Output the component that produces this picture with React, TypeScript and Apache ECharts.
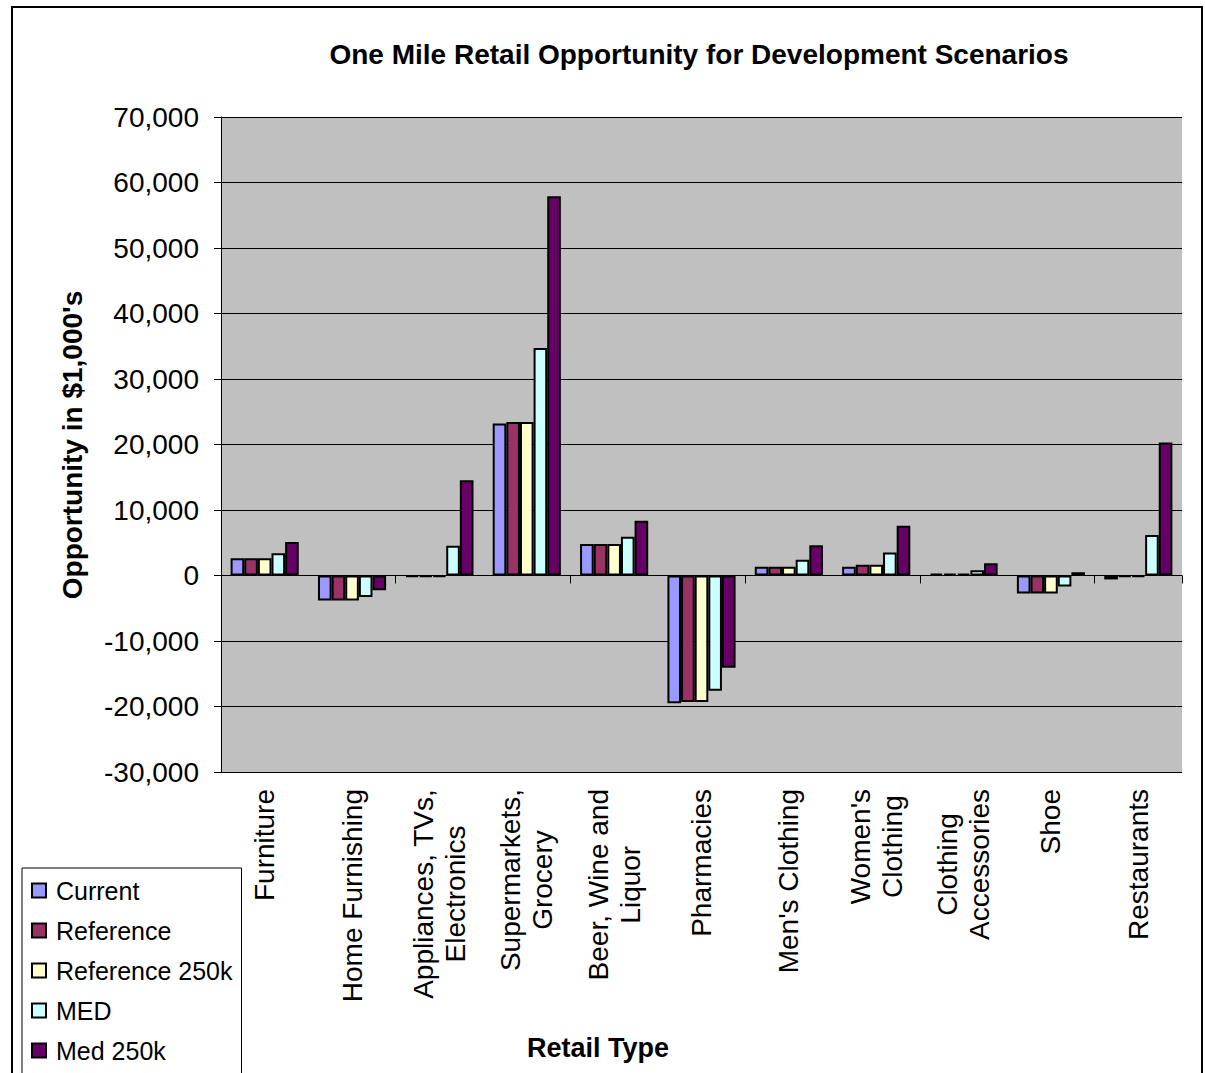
import React, { useEffect, useRef } from "react";
import * as echarts from "echarts";

const categories = [
  "Furniture",
  "Home Furnishing",
  "Appliances, TVs,\nElectronics",
  "Supermarkets,\nGrocery",
  "Beer, Wine and\nLiquor",
  "Pharmacies",
  "Men's Clothing",
  "Women's\nClothing",
  "Clothing\nAccessories",
  "Shoe",
  "Restaurants",
];

const seriesNames = ["Current", "Reference", "Reference 250k", "MED", "Med 250k"];
const seriesColors = ["#9999FF", "#993366", "#FFFFCC", "#CCFFFF", "#660066"];

const current = [2650, -3800, -200, 23200, 4800, -19500, 1330, 1330, 300, -2750, -600];
const reference = [2650, -3800, -200, 23450, 4800, -19300, 1330, 1630, 300, -2750, -200];
const reference250k = [2650, -3800, -200, 23450, 4800, -19300, 1330, 1630, 300, -2750, -200];
const med = [3400, -3300, 4550, 34750, 5900, -17600, 2400, 3500, 820, -1680, 6200];
const med250k = [5100, -2250, 14550, 57900, 8350, -14100, 4600, 7600, 1880, 500, 20300];

const seriesData = [current, reference, reference250k, med, med250k];

const FONT = "'Liberation Sans', Arial, sans-serif";
// page offset of the chart's content box
const OX = 13;
const OY = 8;

export default function App() {
  const ref = useRef<HTMLDivElement>(null);

  useEffect(() => {
    if (!ref.current) return;
    const chart = echarts.init(ref.current, undefined, { renderer: "svg" });
    const option: any = {
      animation: false,
      backgroundColor: "#ffffff",
      textStyle: { fontFamily: FONT, color: "#000" },
      grid: {
        left: 221 - OX,
        top: 117 - OY,
        width: 961,
        height: 655,
        show: true,
        backgroundColor: "#C0C0C0",
        borderWidth: 0,
      },
      legend: {
        orient: "vertical",
        left: 22 - OX,
        top: 868 - OY,
        width: 220,
        padding: [10, 9, 12, 9],
        itemGap: 15,
        itemWidth: 14,
        itemHeight: 14,
        icon: "rect",
        borderColor: "#000",
        borderWidth: 1,
        backgroundColor: "#fff",
        textStyle: {
          fontFamily: FONT,
          fontSize: 25,
          color: "#000",
          padding: [0, 0, 0, 5],
        },
        data: seriesNames,
      },
      xAxis: [
        {
          type: "category",
          data: categories,
          gridIndex: 0,
          axisLine: { show: true, onZero: true, lineStyle: { color: "#000", width: 1 } },
          axisTick: { show: true, length: 8, lineStyle: { color: "#000" } },
          axisLabel: { show: false },
          splitLine: { show: false },
        },
        {
          type: "category",
          data: categories,
          gridIndex: 0,
          position: "bottom",
          axisLine: { show: false, onZero: false },
          axisTick: { show: false },
          axisLabel: {
            show: true,
            rotate: 90,
            interval: 0,
            margin: 17,
            fontFamily: FONT,
            fontSize: 28,
            lineHeight: 32,
            color: "#000",
            formatter: (v: string) =>
              v
                .split("\n")
                .map((line) => `{c|${line}}`)
                .join("\n"),
            rich: {
              c: {
                align: "center",
                fontFamily: FONT,
                fontSize: 28,
                lineHeight: 32,
                color: "#000",
              },
            },
          },
          splitLine: { show: false },
        },
      ],
      yAxis: {
        type: "value",
        min: -30000,
        max: 70000,
        interval: 10000,
        axisLine: { show: true, lineStyle: { color: "#000", width: 1 } },
        axisTick: { show: true, length: 7, lineStyle: { color: "#000" } },
        axisLabel: {
          margin: 22,
          fontFamily: FONT,
          fontSize: 28,
          color: "#000",
          formatter: (v: number) => v.toLocaleString("en-US"),
        },
        splitLine: { show: true, lineStyle: { color: "#000", width: 1 } },
      },
      series: seriesNames.map((name, i) => ({
        name,
        type: "bar",
        xAxisIndex: 0,
        data: seriesData[i],
        barGap: "0%",
        barCategoryGap: "22%",
        itemStyle: {
          color: seriesColors[i],
          borderColor: "#000",
          borderWidth: 2,
        },
      })),
      graphic: [
        {
          type: "text",
          x: 699 - OX,
          y: 54 - OY,
          style: {
            text: "One Mile Retail Opportunity for Development Scenarios",
            font: `bold 28px ${FONT}`,
            fill: "#000",
            textAlign: "center",
            textVerticalAlign: "middle",
          },
        },
        {
          type: "text",
          x: 72 - OX,
          y: 445 - OY,
          rotation: Math.PI / 2,
          style: {
            text: "Opportunity in $1,000's",
            font: `bold 28px ${FONT}`,
            fill: "#000",
            textAlign: "center",
            textVerticalAlign: "middle",
          },
        },
        {
          type: "text",
          x: 598 - OX,
          y: 1048 - OY,
          style: {
            text: "Retail Type",
            font: `bold 27px ${FONT}`,
            fill: "#000",
            textAlign: "center",
            textVerticalAlign: "middle",
          },
        },
      ],
    };
    chart.setOption(option);
    return () => chart.dispose();
  }, []);

  return (
    <div
      style={{
        position: "absolute",
        left: 11,
        top: 6,
        width: 1192,
        height: 1080,
        borderTop: "2px solid #000",
        borderLeft: "2px solid #000",
        borderRight: "2px solid #000",
        boxSizing: "border-box",
        background: "#fff",
      }}
    >
      <div ref={ref} style={{ width: 1188, height: 1078 }} />
    </div>
  );
}
